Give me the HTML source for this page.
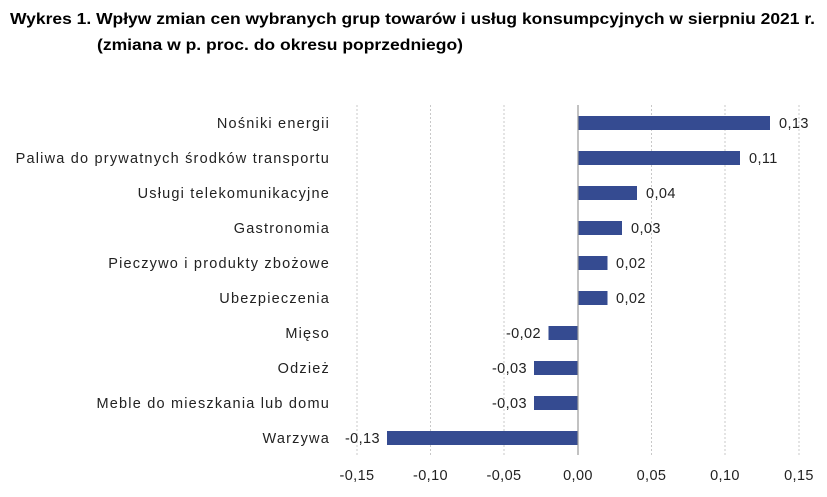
<!DOCTYPE html>
<html><head><meta charset="utf-8"><style>body{margin:0;background:#fff}svg{display:block}</style></head>
<body>
<svg width="827" height="497" xmlns="http://www.w3.org/2000/svg" font-family="Liberation Sans, sans-serif">
<text x="10" y="24" font-size="16" font-weight="bold" textLength="805" lengthAdjust="spacingAndGlyphs" fill="#000">Wykres 1. Wpływ zmian cen wybranych grup towarów i usług konsumpcyjnych w sierpniu 2021 r.</text>
<text x="97" y="50" font-size="16" font-weight="bold" textLength="366" lengthAdjust="spacingAndGlyphs" fill="#000">(zmiana w p. proc. do okresu poprzedniego)</text>
<g stroke="#c8c8c8" stroke-dasharray="2,2" stroke-width="1">
<line x1="357" y1="105" x2="357" y2="455"/><line x1="430.5" y1="105" x2="430.5" y2="455"/><line x1="504" y1="105" x2="504" y2="455"/>
<line x1="651.5" y1="105" x2="651.5" y2="455"/><line x1="725" y1="105" x2="725" y2="455"/><line x1="799" y1="105" x2="799" y2="455"/>
</g>
<g fill="#354b91">
<rect x="578" y="116" width="192" height="14"/>
<rect x="578" y="151" width="162" height="14"/>
<rect x="578" y="186" width="59" height="14"/>
<rect x="578" y="221" width="44" height="14"/>
<rect x="578" y="256" width="29.5" height="14"/>
<rect x="578" y="291" width="29.5" height="14"/>
<rect x="548.5" y="326" width="29.5" height="14"/>
<rect x="534" y="361" width="44" height="14"/>
<rect x="534" y="396" width="44" height="14"/>
<rect x="387" y="431" width="191" height="14"/>
</g>
<line x1="578" y1="105" x2="578" y2="455" stroke="#999" stroke-width="1.2"/>
<g font-size="14.5" fill="#222" text-anchor="end" letter-spacing="1.2">
<text x="330" y="128">Nośniki energii</text>
<text x="330" y="163">Paliwa do prywatnych środków transportu</text>
<text x="330" y="198">Usługi telekomunikacyjne</text>
<text x="330" y="233">Gastronomia</text>
<text x="330" y="268">Pieczywo i produkty zbożowe</text>
<text x="330" y="303">Ubezpieczenia</text>
<text x="330" y="338">Mięso</text>
<text x="330" y="373">Odzież</text>
<text x="330" y="408">Meble do mieszkania lub domu</text>
<text x="330" y="443">Warzywa</text>
</g>
<g font-size="14.5" fill="#222" letter-spacing="0.4">
<text x="779" y="128">0,13</text>
<text x="749" y="163">0,11</text>
<text x="646" y="198">0,04</text>
<text x="631" y="233">0,03</text>
<text x="616" y="268">0,02</text>
<text x="616" y="303">0,02</text>
<text x="541" y="338" text-anchor="end">-0,02</text>
<text x="527" y="373" text-anchor="end">-0,03</text>
<text x="527" y="408" text-anchor="end">-0,03</text>
<text x="380" y="443" text-anchor="end">-0,13</text>
</g>
<g font-size="14.5" fill="#222" text-anchor="middle" letter-spacing="0.4">
<text x="357" y="480">-0,15</text><text x="430.5" y="480">-0,10</text><text x="504" y="480">-0,05</text>
<text x="578" y="480">0,00</text><text x="651.5" y="480">0,05</text><text x="725" y="480">0,10</text><text x="799" y="480">0,15</text>
</g>
</svg>
</body></html>
